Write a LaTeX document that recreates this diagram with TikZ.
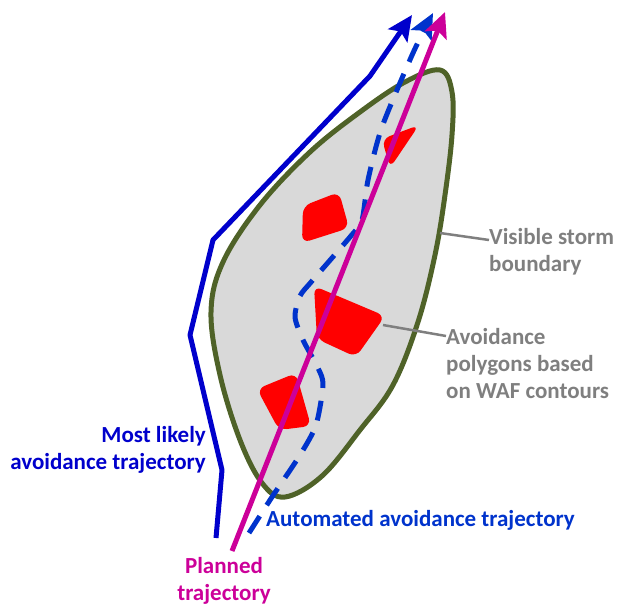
\documentclass[tikz,border=0pt]{standalone}
\usepackage{fontspec}
\setmainfont{Carlito}
\usetikzlibrary{arrows.meta}
\definecolor{stormgreen}{HTML}{4F6228}
\definecolor{stormgray}{HTML}{D9D9D9}
\definecolor{cellred}{HTML}{FF0000}
\definecolor{likelyblue}{HTML}{0000CC}
\definecolor{autoblue}{HTML}{0033CC}
\definecolor{planmag}{HTML}{CC0099}
\definecolor{notegray}{HTML}{7F7F7F}
\tikzset{
  storm/.style={draw=stormgreen, fill=stormgray, line width=5pt},
  cell/.style={fill=cellred, rounded corners=8pt},
  leader/.style={draw=notegray, line width=2.5pt},
  note/.style={font=\fontsize{23}{27}\selectfont\bfseries, inner sep=0pt},
  bigarrow/.style={-{Stealth[length=25pt,width=23pt,inset=5pt]}, line width=5pt, line join=round}
}
\begin{document}
\begin{tikzpicture}[x=1pt, y=-1pt]
  \useasboundingbox (0,0) rectangle (618,607);

  % storm boundary
  \draw[storm] plot[smooth cycle, tension=0.6] coordinates {
    (440,70) (452,92) (452,135) (445,195) (435,255) (418,322) (393,385)
    (360,430) (322,476) (285,497) (262,483) (240,440) (220,375) (211,312)
    (223,262) (260,205) (310,152) (360,112) (405,82)};

  % avoidance polygons
  \fill[cell] (382,139) -- (419,125) -- (390,168) -- cycle;
  \fill[cell] (303,206) -- (339,192) -- (349,228) -- (302,243) -- cycle;
  \fill[cell] (314,286) -- (385,316) -- (356,357) -- (317,339) -- cycle;
  \fill[cell] (257,389) -- (296,373) -- (311,426) -- (279,430) -- cycle;

  % trajectories
  \draw[bigarrow, autoblue, dash pattern=on 20pt off 13pt] plot[smooth, tension=0.45] coordinates {
    (249,533) (272,497) (300,455) (316,425) (323,385) (318,368) (303,340)
    (295,317) (300,296) (312,281) (350,237) (362,220) (368,180) (382,127)
    (413,53) (433,13)};
  \draw[bigarrow, planmag] (232,551) -- (445,12);
  \draw[bigarrow, likelyblue] (216,538) -- (222,470) -- (190,335) -- (213,240)
    -- (370,76) -- (412,15);

  % labels
  \coordinate (edge) at (440,233);
  \coordinate (poly) at (383,325);
  \node[note, notegray, anchor=west, align=left] (storm lbl) at (489,252) {Visible storm\\boundary};
  \node[note, notegray, anchor=west, align=left] (poly lbl) at (446,364) {Avoidance\\polygons based\\on WAF contours};
  \node[note, likelyblue, anchor=east, align=right] (likely lbl) at (206,450) {Most likely\\avoidance trajectory};
  \node[note, autoblue, anchor=west] (auto lbl) at (266,520) {Automated avoidance trajectory};
  \node[note, planmag, align=center] (plan lbl) at (224,581) {Planned\\trajectory};

  \draw[leader] (edge) -- (storm lbl.west |- 0,240);
  \draw[leader] (poly) -- (poly lbl.west |- 0,336);
\end{tikzpicture}
\end{document}
